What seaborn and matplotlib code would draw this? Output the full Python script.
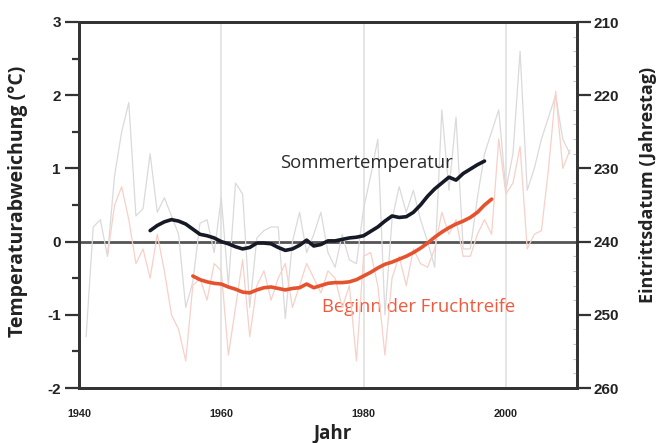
import seaborn as sns
import matplotlib.pyplot as plt
import matplotlib.ticker as mticker
import pandas as pd
import numpy as np

# Jaehrliche Sommertemperatur-Abweichung (graue duenne Linie), degC
jahre_temp = list(range(1941, 2010))
temp_jahr = [-1.3, 0.2, 0.3, -0.2, 0.9, 1.5, 1.9, 0.35, 0.45, 1.2,
             0.4, 0.6, 0.35, 0.1, -0.9, -0.55, 0.25, 0.3, -0.15, 0.6,
             -0.6, 0.8, 0.65, -0.9, 0.05, 0.15, 0.2, 0.2, -1.05, 0.0,
             0.4, -0.15, 0.1, 0.4, -0.15, -0.35, 0.1, -0.25, -0.3, 0.45,
             0.9, 1.4, -1.0, 0.3, 0.75, 0.4, 0.7, 0.3, 0.0, -0.35,
             1.8, 0.7, 1.7, -0.1, -0.1, 0.6, 1.2, 1.5, 1.8, 0.7,
             1.2, 2.6, 0.7, 1.0, 1.4, 1.7, 2.0, 1.4, 1.2]

# Jaehrlicher Beginn der Fruchtreife (hellrote duenne Linie), Jahrestag
jahre_reife = list(range(1944, 2010))
reife_jahr = [242, 235, 232.5, 237, 243, 241, 245, 239, 244, 250,
              252, 256.3, 246, 245, 248, 243, 244, 255.5, 249, 242.5,
              253, 246, 244, 248, 245, 243, 249, 246, 243, 245,
              247, 244, 245, 249, 246, 256.3, 242, 241.5, 246, 255.5,
              245, 242, 246, 241, 243, 243.5, 241, 236, 239, 237,
              242, 242, 239, 237, 239, 226, 233.5, 232, 227, 241,
              239, 238.5, 230, 219.5, 230, 227.5]

# Geglaettete Kurven (dicke Linien)
jahre_temp_glatt = list(range(1950, 1998))
temp_glatt = [0.15, 0.22, 0.27, 0.30, 0.28, 0.24, 0.17, 0.10, 0.08, 0.05,
              0.0, -0.03, -0.07, -0.10, -0.08, -0.02, -0.02, -0.03, -0.08, -0.12,
              -0.10, -0.05, 0.02, -0.06, -0.04, 0.01, 0.01, 0.03, 0.05, 0.06,
              0.08, 0.14, 0.20, 0.28, 0.35, 0.33, 0.34, 0.40, 0.50, 0.62,
              0.72, 0.80, 0.88, 0.84, 0.93, 0.99, 1.05, 1.10]

jahre_reife_glatt = list(range(1956, 1999))
reife_glatt = [244.7, 245.2, 245.5, 245.7, 245.8, 246.2, 246.5, 246.9, 247.0, 246.6,
               246.3, 246.2, 246.4, 246.6, 246.4, 246.3, 245.8, 246.3, 246.0, 245.7,
               245.6, 245.6, 245.5, 245.2, 244.7, 244.2, 243.6, 243.1, 242.8, 242.4,
               242.0, 241.5, 240.9, 240.2, 239.4, 238.7, 238.1, 237.6, 237.2, 236.7,
               236.0, 235.0, 234.2]

df_temp = pd.DataFrame({"Jahr": jahre_temp, "T": temp_jahr})
df_reife = pd.DataFrame({"Jahr": jahre_reife, "Tag": reife_jahr})
df_temp_g = pd.DataFrame({"Jahr": jahre_temp_glatt, "T": temp_glatt})
df_reife_g = pd.DataFrame({"Jahr": jahre_reife_glatt, "Tag": reife_glatt})

sns.set_style("white")
plt.rcParams['font.family'] = ['Liberation Sans', 'DejaVu Sans']
plt.rcParams['axes.unicode_minus'] = False

fig = plt.figure(figsize=(6.66, 4.43), dpi=100)
ax = fig.add_axes([79/666, 1-388/443, (577-79)/666, (388-22)/443])
ax2 = ax.twinx()

for yr in [1960, 1980, 2000]:
    ax.axvline(yr, color="#e3e3e3", lw=1.3, zorder=0)
ax.axhline(0, color="#555555", lw=2, zorder=1)

sns.lineplot(data=df_temp, x="Jahr", y="T", ax=ax, color="#dadada", lw=0.9)
sns.lineplot(data=df_reife, x="Jahr", y="Tag", ax=ax2, color="#f8d0c7", lw=0.9)
sns.lineplot(data=df_temp_g, x="Jahr", y="T", ax=ax, color="#161a26", lw=2.6)
sns.lineplot(data=df_reife_g, x="Jahr", y="Tag", ax=ax2, color="#e5522e", lw=2.6)

ax.set_xlim(1940, 2010)
ax.set_ylim(-2, 3)
ax2.set_ylim(260, 210)

ax.xaxis.set_major_locator(mticker.MultipleLocator(20))
ax.xaxis.set_minor_locator(mticker.MultipleLocator(5))
ax.yaxis.set_major_locator(mticker.MultipleLocator(1))
ax.yaxis.set_minor_locator(mticker.MultipleLocator(0.5))
ax2.yaxis.set_major_locator(mticker.MultipleLocator(10))
ax2.yaxis.set_minor_locator(mticker.MultipleLocator(2))

ax.tick_params(axis="y", which="major", length=10, width=1.6, color="#333333",
               labelsize=11, pad=3, direction="out")
ax.tick_params(axis="y", which="minor", length=5, width=1.6, color="#333333", direction="out")
ax.tick_params(axis="x", which="major", length=9, width=1.6, color="#333333",
               labelsize=7.8, pad=6, direction="out")
ax.tick_params(axis="x", which="minor", length=6, width=1.6, color="#333333", direction="out")
ax2.tick_params(axis="y", which="major", length=10, width=1.6, color="#333333",
                labelsize=11, pad=2, direction="out")
ax2.tick_params(axis="y", which="minor", length=3, width=0.8, color="#c4c4c4", direction="in")

for lab in ax.get_yticklabels() + ax2.get_yticklabels() + ax.get_xticklabels():
    lab.set_fontweight("bold")
    lab.set_color("#222222")

for a in (ax, ax2):
    for s in a.spines.values():
        s.set_linewidth(2)
        s.set_color("#333333")

ax.set_xlabel("")
ax.set_ylabel("")
ax2.set_ylabel("")
fig.text(0.027, 0.546, "Temperaturabweichung (°C)", rotation=90, ha="center", va="center",
         fontsize=14, fontweight="bold", family=["Open Sans", "DejaVu Sans"], color="#222222")
fig.text(0.973, 0.582, "Eintrittsdatum (Jahrestag)", rotation=90, ha="center", va="center",
         fontsize=13, fontweight="bold", family=["Open Sans", "DejaVu Sans"], color="#222222")
fig.text(333/666, 1-433/443, "Jahr", ha="center", va="center",
         fontsize=13.5, fontweight="bold", family=["Open Sans", "DejaVu Sans"], color="#222222")

ax.text(1968.2, 1.07, "Sommertemperatur", ha="left", va="center", fontsize=13.3,
        family=["Open Sans", "DejaVu Sans"], color="#2a2a2a")
ax.text(1974.1, -0.89, "Beginn der Fruchtreife", ha="left", va="center", fontsize=13.3,
        family=["Open Sans", "DejaVu Sans"], color="#f05a3c")

fig.savefig("out.png", dpi=100)
